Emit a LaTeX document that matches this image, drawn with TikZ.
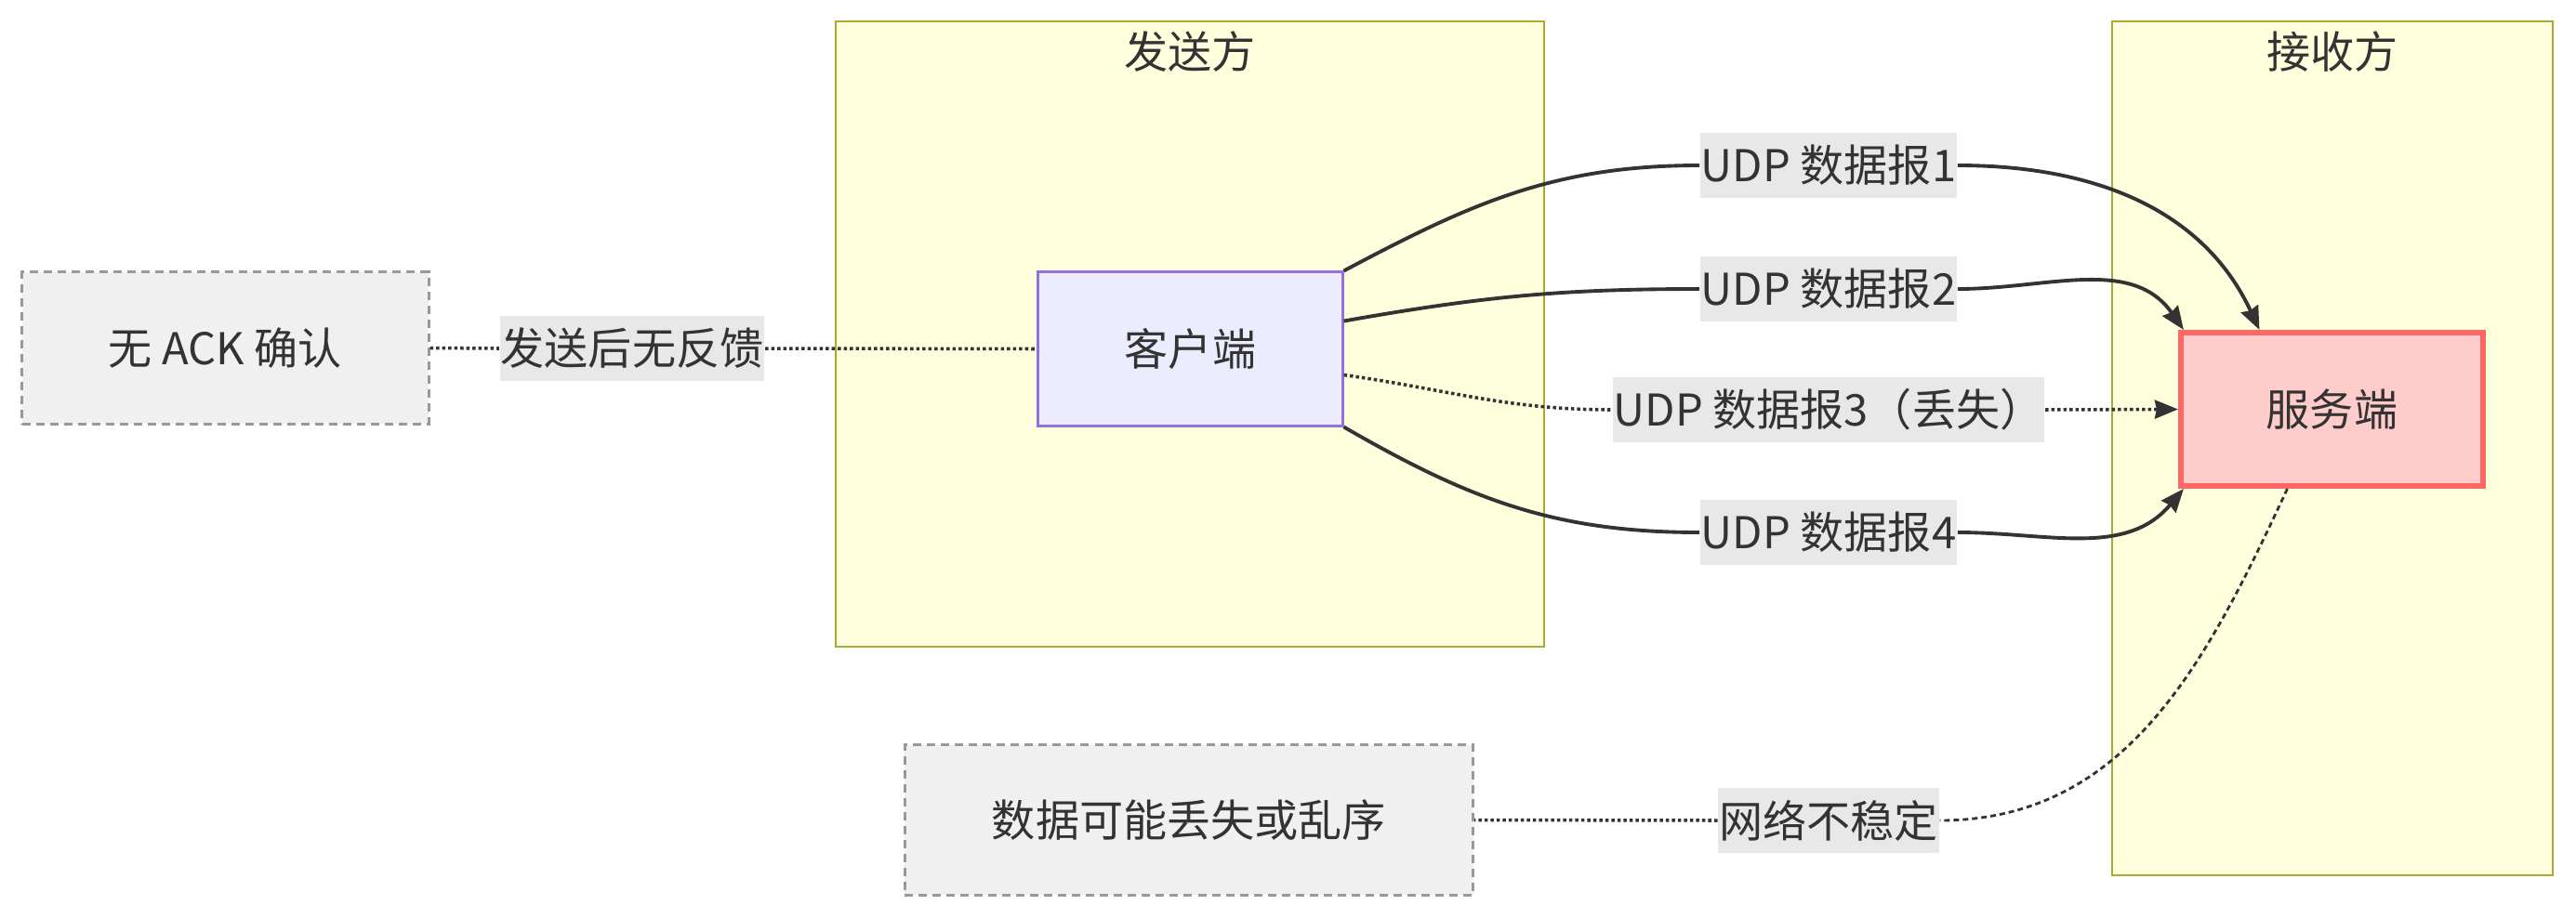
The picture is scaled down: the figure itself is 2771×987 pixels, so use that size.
\documentclass[tikz,border=0pt]{standalone}
\usepackage{fontspec}
\setmainfont{Noto Sans CJK SC}
\usetikzlibrary{arrows.meta,positioning}
\usepackage{xcolor}
\definecolor{clusterfill}{HTML}{FFFFDE}
\definecolor{clusterline}{HTML}{AAAA33}
\definecolor{clientfill}{HTML}{ECECFF}
\definecolor{clientline}{HTML}{9370DB}
\definecolor{serverfill}{HTML}{FFCCCC}
\definecolor{serverline}{HTML}{FF6666}
\definecolor{notefill}{HTML}{F0F0F0}
\definecolor{noteline}{HTML}{999999}
\definecolor{labelfill}{HTML}{E8E8E8}
\definecolor{inkgray}{HTML}{333333}

\begin{document}
\begin{tikzpicture}[x=0.01cm, y=-0.01cm, font=\fontsize{13.4}{16}\selectfont, text=inkgray,
  cluster/.style={draw=clusterline, fill=clusterfill, line width=0.6pt, inner sep=0},
  notebox/.style={draw=noteline, fill=notefill, line width=0.85pt, dash pattern=on 0.09cm off 0.06cm, inner sep=0},
  edgelabel/.style={fill=labelfill, inner xsep=0.01cm, inner ysep=0, minimum height=0.7cm},
  flow/.style={draw=inkgray, line width=1.1pt},
  lost/.style={draw=inkgray, line width=1pt, dash pattern=on 0.035cm off 0.03cm},
  tip/.style={-{Stealth[length=0.25cm, width=0.2cm, inset=0.02cm]}}]

  \useasboundingbox (0,0) rectangle (2771,987);

  % subgraphs
  \node[cluster, minimum width=7.62cm, minimum height=6.73cm] (sender) at (1280,359.5) {};
  \node[cluster, minimum width=4.74cm, minimum height=9.19cm] (receiver) at (2509,482.5) {};
  \node (sendertitle) at ([yshift=-0.34cm]sender.north) {发送方};
  \node (receivertitle) at ([yshift=-0.34cm]receiver.north) {接收方};

  % nodes
  \node[draw=clientline, fill=clientfill, line width=0.85pt, inner sep=0, minimum width=3.27cm, minimum height=1.65cm] (client) at (1280.5,375.5) {客户端};
  \node[draw=serverline, fill=serverfill, line width=1.7pt, inner sep=0, minimum width=3.25cm, minimum height=1.65cm] (server) at (2508.5,440.5) {服务端};
  \node[notebox, minimum width=4.37cm, minimum height=1.63cm] (noack) at (242.5,374.5) {无 ACK 确认};
  \node[notebox, minimum width=6.11cm, minimum height=1.61cm] (unreliable) at (1279,882.5) {数据可能丢失或乱序};

  % edge labels
  \node[edgelabel] (dgram1) at (1967,178) {UDP 数据报1};
  \node[edgelabel] (dgram2) at (1967,311) {UDP 数据报2};
  \node[edgelabel] (dgram3) at (1967,441) {UDP 数据报3（丢失）};
  \node[edgelabel] (dgram4) at (1967,573) {UDP 数据报4};
  \node[edgelabel] (nofeedback) at (680,375) {发送后无反馈};
  \node[edgelabel] (unstable) at (1967,883) {网络不稳定};

  % connectors
  \draw[flow] (client.north east) to[out=28, in=180] (dgram1.west);
  \draw[flow, tip] (dgram1.east) to[out=0, in=115] ([xshift=-0.78cm]server.north);
  \draw[flow] ([yshift=0.3cm]client.east) to[out=10, in=180] (dgram2.west);
  \draw[flow, tip] (dgram2.east) to[out=0, in=125] ([xshift=0.06cm]server.north west);
  \draw[lost] ([yshift=-0.28cm]client.east) to[out=-8, in=180] (dgram3.west);
  \draw[lost, tip] (dgram3.east) -- (server.west);
  \draw[flow] (client.south east) to[out=-30, in=180] (dgram4.west);
  \draw[flow, tip] (dgram4.east) to[out=0, in=-130] ([xshift=0.06cm]server.south west);

  \draw[lost] (noack.east) -- (nofeedback.west);
  \draw[lost] (nofeedback.east) -- (client.west);
  \draw[lost, line width=0.8pt, dash pattern=on 0.06cm off 0.04cm] ([xshift=-0.48cm]server.south) to[out=-115, in=0] (unstable.east);
  \draw[lost] (unstable.west) -- (unreliable.east);
\end{tikzpicture}
\end{document}
